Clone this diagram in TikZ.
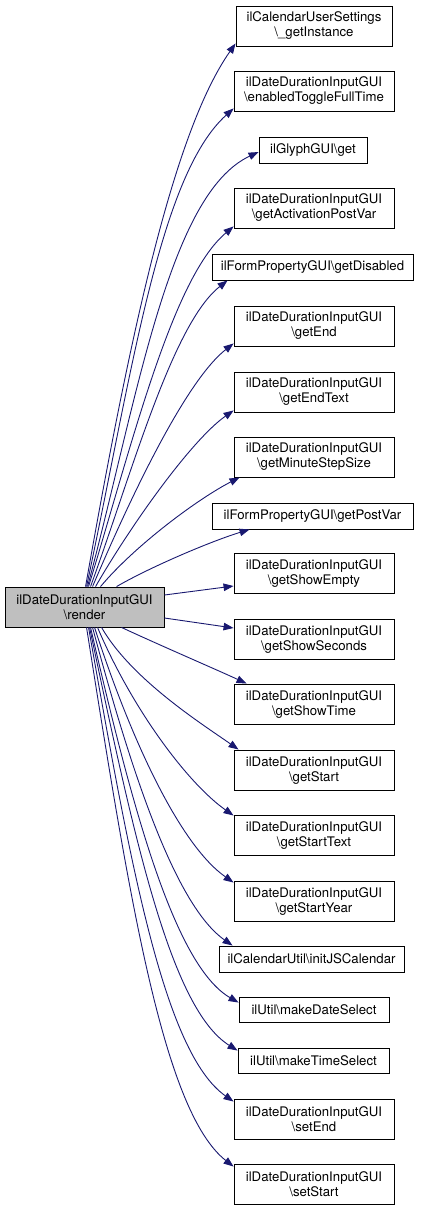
\documentclass[tikz,border=0pt]{standalone}
\usepackage{fontspec}
\setmainfont{TeX Gyre Heros}
\usetikzlibrary{arrows.meta,calc}
\definecolor{edgeblue}{HTML}{191970}
\definecolor{maingray}{HTML}{BFBFBF}
\begin{document}
\begin{tikzpicture}[x=1pt,y=1pt,
  fn/.style={draw=black,line width=0.9pt,fill=white,inner sep=0pt,align=center,
    font=\fontsize{13.2}{15}\selectfont,minimum height=40pt,minimum width=160pt},
  fn1/.style={fn,minimum height=26pt},
  edge/.style={draw=edgeblue,line width=0.9pt,-{Triangle[length=10pt,width=7.5pt]}}]
\useasboundingbox (0,0) rectangle (421,-1211);
\node[fn,fill=maingray,minimum width=159pt] (main) at (84.5,-607) {ilDateDurationInputGUI\\\textbackslash render};
\node[fn,minimum width=156pt] (n1) at (314,-26) {ilCalendarUserSettings\\\textbackslash\_getInstance};
\node[fn] (n2) at (314,-91) {ilDateDurationInputGUI\\\textbackslash enabledToggleFullTime};
\node[fn1,minimum width=108pt] (n3) at (313,-150) {ilGlyphGUI\textbackslash get};
\node[fn] (n4) at (314,-208) {ilDateDurationInputGUI\\\textbackslash getActivationPostVar};
\node[fn1,minimum width=201pt] (n5) at (312.5,-267) {ilFormPropertyGUI\textbackslash getDisabled};
\node[fn] (n6) at (314,-326) {ilDateDurationInputGUI\\\textbackslash getEnd};
\node[fn] (n7) at (314,-392) {ilDateDurationInputGUI\\\textbackslash getEndText};
\node[fn] (n8) at (314,-457) {ilDateDurationInputGUI\\\textbackslash getMinuteStepSize};
\node[fn1,minimum width=201pt] (n9) at (312.5,-516) {ilFormPropertyGUI\textbackslash getPostVar};
\node[fn] (n10) at (314,-573) {ilDateDurationInputGUI\\\textbackslash getShowEmpty};
\node[fn] (n11) at (314,-639) {ilDateDurationInputGUI\\\textbackslash getShowSeconds};
\node[fn] (n12) at (314,-704) {ilDateDurationInputGUI\\\textbackslash getShowTime};
\node[fn] (n13) at (314,-770) {ilDateDurationInputGUI\\\textbackslash getStart};
\node[fn] (n14) at (314,-835) {ilDateDurationInputGUI\\\textbackslash getStartText};
\node[fn] (n15) at (314,-901) {ilDateDurationInputGUI\\\textbackslash getStartYear};
\node[fn1,minimum width=185pt] (n16) at (311.5,-959) {ilCalendarUtil\textbackslash initJSCalendar};
\node[fn1,minimum width=150pt,minimum height=25pt] (n17) at (314,-1009.5) {ilUtil\textbackslash makeDateSelect};
\node[fn1,minimum width=151pt,minimum height=25pt] (n18) at (313.5,-1060.5) {ilUtil\textbackslash makeTimeSelect};
\node[fn] (n19) at (314,-1119) {ilDateDurationInputGUI\\\textbackslash setEnd};
\node[fn] (n20) at (314,-1184) {ilDateDurationInputGUI\\\textbackslash setStart};
% upper edges
\draw[edge] ($(main.north west)+(81,0)$) to[out=80,in=235,out distance=250pt,in distance=110pt] ($(n1.south west)+(0,3)$);
\draw[edge] ($(main.north west)+(82,0)$) to[out=78,in=222,out distance=220pt,in distance=100pt] ($(n2.south west)+(0,3)$);
\draw[edge] ($(main.north west)+(83,0)$) to[out=75,in=205,out distance=190pt,in distance=100pt] ($(n3.west)+(0,-2)$);
\draw[edge] ($(main.north west)+(84,0)$) to[out=73,in=220,out distance=150pt,in distance=80pt] ($(n4.south west)+(0,2)$);
\draw[edge] ($(main.north west)+(86,0)$) to[out=70,in=218,out distance=120pt,in distance=70pt] ($(n5.south west)+(16,0)$);
\draw[edge] ($(main.north west)+(88,0)$) to[out=67,in=218,out distance=100pt,in distance=60pt] ($(n6.south west)+(0,3)$);
\draw[edge] ($(main.north west)+(91,0)$) to[out=60,in=215,out distance=75pt,in distance=50pt] ($(n7.south west)+(0,2)$);
\draw[edge] ($(main.north west)+(96,0)$) to[out=50,in=207,out distance=55pt,in distance=45pt] ($(n8.south west)+(6,0)$);
\draw[edge] ($(main.north west)+(112,0)$) to[out=30,in=197,out distance=40pt,in distance=40pt] ($(n9.south west)+(38,0)$);
% side edges
\draw[edge] ($(main.east)+(0,12)$) -- ($(n10.west)+(0,-13)$);
\draw[edge] ($(main.east)+(0,-11)$) -- ($(n11.west)+(0,11)$);
% lower edges
\draw[edge] ($(main.south west)+(117,0)$) to[out=-25,in=155,out distance=40pt,in distance=30pt] ($(n12.north west)+(13,0)$);
\draw[edge] ($(main.south west)+(97,0)$) to[out=-60,in=145,out distance=60pt,in distance=45pt] ($(n13.north west)+(5,0)$);
\draw[edge] ($(main.south west)+(93,0)$) to[out=-67,in=145,out distance=90pt,in distance=55pt] ($(n14.north west)+(0,-1)$);
\draw[edge] ($(main.south west)+(90,0)$) to[out=-72,in=145,out distance=120pt,in distance=65pt] ($(n15.north west)+(0,-2)$);
\draw[edge] ($(main.south west)+(88,0)$) to[out=-75,in=145,out distance=150pt,in distance=70pt] ($(n16.north west)+(14,0)$);
\draw[edge] ($(main.south west)+(86,0)$) to[out=-77,in=150,out distance=180pt,in distance=75pt] ($(n17.north west)+(0,-6)$);
\draw[edge] ($(main.south west)+(85,0)$) to[out=-78,in=148,out distance=210pt,in distance=80pt] ($(n18.north west)+(0,-3)$);
\draw[edge] ($(main.south west)+(84,0)$) to[out=-80,in=145,out distance=240pt,in distance=85pt] ($(n19.north west)+(0,-3)$);
\draw[edge] ($(main.south west)+(82,0)$) to[out=-81,in=142,out distance=270pt,in distance=90pt] ($(n20.north west)+(0,-3)$);
\end{tikzpicture}
\end{document}
